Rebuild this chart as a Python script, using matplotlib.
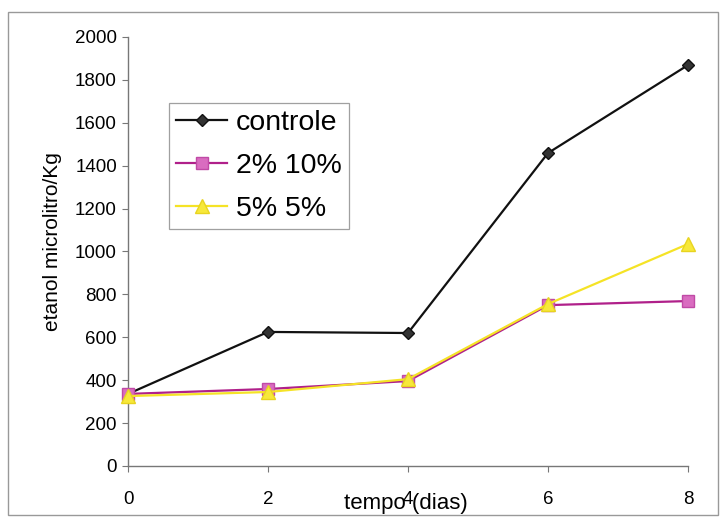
import matplotlib
matplotlib.use("Agg")
import matplotlib.pyplot as plt
from matplotlib.patches import Rectangle

plt.rcParams['font.family'] = ['Liberation Sans', 'DejaVu Sans']

# data
dias = [0, 2, 4, 6, 8]
controle = [336, 625, 620, 1459, 1869]
trat_2_10 = [336, 359, 396, 750, 769]
trat_5_5 = [326, 345, 405, 755, 1035]
y_ticks = [0, 200, 400, 600, 800, 1000, 1200, 1400, 1600, 1800, 2000]

fig = plt.figure(figsize=(7.2, 5.23), dpi=100)
ax = fig.add_axes([128 / 720, 1 - 466 / 523, 560 / 720, 429 / 523])

ax.plot(dias, controle, color='#111111', lw=1.6, marker='D', ms=6,
        mfc='#333333', mec='#111111', label='controle', clip_on=False, zorder=3)
ax.plot(dias, trat_2_10, color='#b0208a', lw=1.6, marker='s', ms=9,
        mfc='#d96cc0', mec='#c04aa6', label='2% 10%', clip_on=False, zorder=3)
ax.plot(dias, trat_5_5, color='#f5e326', lw=1.6, marker='^', ms=10,
        mfc='#f7e83a', mec='#e8d420', label='5% 5%', clip_on=False, zorder=3)

ax.set_xlim(0, 8)
ax.set_ylim(0, 2000)
ax.set_xticks([0, 2, 4, 6, 8])
ax.set_yticks(y_ticks)
ax.tick_params(axis='both', labelsize=13.5, color='#777777', length=4,
               direction='out', width=0.8)
ax.tick_params(axis='y', pad=4)
ax.tick_params(axis='x', pad=14)
for side in ['top', 'right']:
    ax.spines[side].set_visible(False)
for side in ['left', 'bottom']:
    ax.spines[side].set_color('#777777')
    ax.spines[side].set_linewidth(1.0)

ax.set_ylabel('etanol microlitro/Kg', fontsize=15)
ax.yaxis.set_label_coords(-0.118, 0.522)
# the title sits on the "4" tick label in the original too
ax.set_xlabel('tempo (dias)', fontsize=16)
ax.xaxis.set_label_coords(0.496, -0.063)

leg = ax.legend(loc='upper left', bbox_to_anchor=(41 / 560, 1 - (103 - 37) / 429),
                fontsize=20.5, frameon=True, fancybox=False, borderpad=0.25,
                handlelength=1.8, handletextpad=0.3, labelspacing=0.6,
                borderaxespad=0)
leg.get_frame().set_edgecolor('#888888')
leg.get_frame().set_linewidth(0.9)

# outer border of the chart area
fig.patches.append(Rectangle((8 / 720, 8 / 523), 710 / 720, 503 / 523,
                             transform=fig.transFigure, fill=False,
                             edgecolor='#999999', lw=1.0))

fig.savefig('out.png', dpi=100)
